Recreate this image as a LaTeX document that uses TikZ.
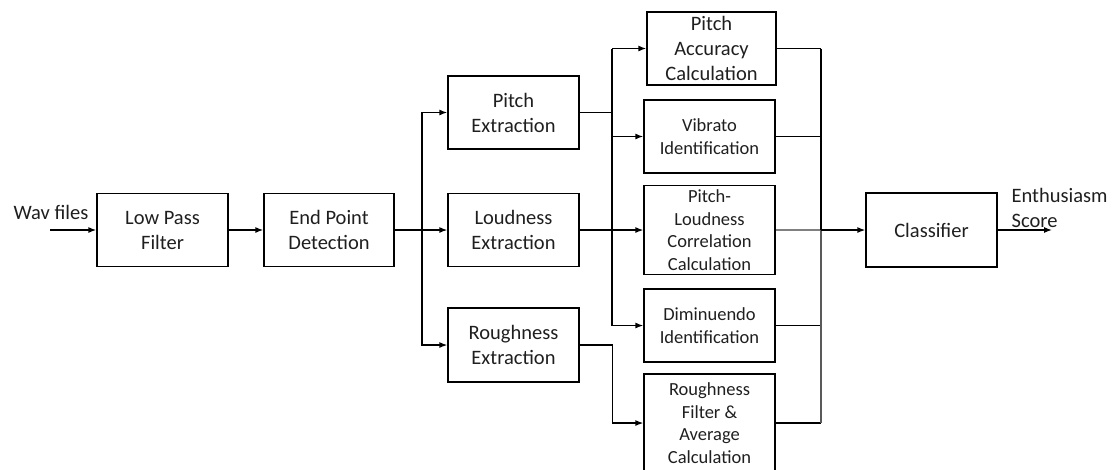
\documentclass[tikz,border=0pt]{standalone}
\usepackage{fontspec}
\setmainfont{Carlito}
\usetikzlibrary{arrows.meta,calc}
\begin{document}
\begin{tikzpicture}[x=1pt,y=-1pt,
  line width=1.3pt,
  arr/.style={-{Latex[length=8pt,width=6pt]}},
  bigbox/.style={draw, line width=1.3pt, align=center, inner sep=0pt, text=black!88,
    font=\fontsize{20.5}{25}\selectfont, minimum width=131pt, minimum height=73pt},
  smallbox/.style={draw, line width=1.3pt, align=center, inner sep=0pt, text=black!88,
    font=\fontsize{18.5}{22.7}\selectfont, minimum width=131pt, minimum height=73pt},
  lbl/.style={inner sep=0pt, align=left, text=black!88, font=\fontsize{20.5}{25}\selectfont}]
\useasboundingbox (0,0) rectangle (1115,469);
\clip (0,0) rectangle (1115,469);
% boxes
\node[bigbox] (lpf) at (162.5,230) {Low Pass\\Filter};
\node[bigbox, minimum width=130pt] (epd) at (329,230) {End Point\\Detection};
\node[bigbox] (pe) at (513.5,112.5) {Pitch\\Extraction};
\node[bigbox] (le) at (513.5,230) {Loudness\\Extraction};
\node[bigbox, minimum height=74pt] (re) at (513.5,345) {Roughness\\Extraction};
\node[bigbox, minimum width=129pt] (pa) at (711.5,48.5) {Pitch\\Accuracy\\Calculation};
\node[smallbox] (vi) at (709.5,136.5) {Vibrato\\Identification};
\node[smallbox, minimum height=89pt] (plc) at (709.5,230) {Pitch-\\Loudness\\Correlation\\Calculation};
\node[smallbox] (di) at (709.5,325.5) {Diminuendo\\Identification};
\node[smallbox, minimum height=98pt] (rf) at (709.5,423) {Roughness\\Filter \&\\Average\\Calculation};
\node[bigbox, minimum height=74pt] (cl) at (931.5,230) {Classifier};
% labels
\node[lbl] (wav) at (51,212) {Wav files};
\node[lbl, anchor=west] (ent) at (1011,207.5) {Enthusiasm\\Score};
% junction coordinates
\coordinate (in) at (50,230);
\coordinate (j1) at (422,230);
\coordinate (j2) at (612,112.5);
\coordinate (j2top) at (612,48.5);
\coordinate (j2bot) at (612,325.5);
\coordinate (bus) at (821,230);
\coordinate (bustop) at (821,48.5);
\coordinate (busbot) at (821,423);
\coordinate (out) at (1052,230);
% connectors
\draw[arr] (in) -- (lpf.west);
\draw[arr] (lpf.east) -- (epd.west);
\draw (epd.east) -- (j1);
\draw[arr] (j1) |- (pe.west);
\draw[arr] (j1) -- (le.west);
\draw[arr] (j1) |- (re.west);
\draw (pe.east) -- (j2);
\draw (j2top) -- (j2bot);
\draw[arr] (j2top) -- (pa.west);
\draw[arr] (j2) |- (vi.west);
\draw[arr] (j2bot) -- (di.west);
\draw[arr] (le.east) -- (plc.west);
\draw[arr] (re.east) -- ++(33,0) |- (rf.west);
\draw (pa.east) -- (bustop);
\draw (vi.east) -| (bus);
\draw[gray] (plc.east) -- (bus);
\draw (di.east) -| (bus);
\draw (rf.east) -- (busbot);
\draw (bustop) -- (bus);
\draw[gray!70!black] (bus) -- (busbot);
\draw[arr] (bus) -- (cl.west);
\draw[arr] (cl.east) -- (out);
\end{tikzpicture}
\end{document}
